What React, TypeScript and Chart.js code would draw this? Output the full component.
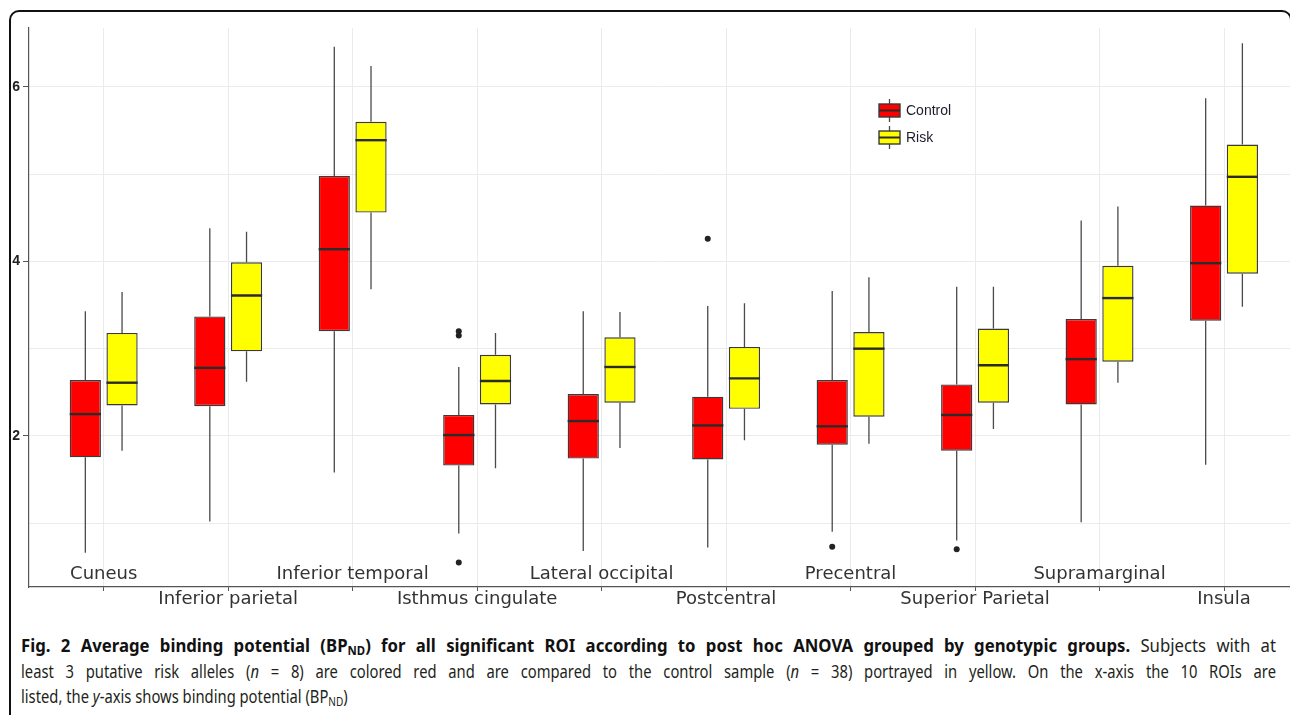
import React, { useEffect, useRef } from "react";
import { Chart, registerables } from "chart.js";

Chart.register(...registerables);

// ---------- data ----------
const regions = [
  "Cuneus",
  "Inferior parietal",
  "Inferior temporal",
  "Isthmus cingulate",
  "Lateral occipital",
  "Postcentral",
  "Precentral",
  "Superior Parietal",
  "Supramarginal",
  "Insula",
];
const groupNames = ["Control", "Risk"];
const groupColors = ["#ff0000", "#ffff00"];

const controlMin = [0.66, 1.02, 1.58, 0.88, 0.68, 0.72, 0.9, 0.8, 1.01, 1.67];
const controlQ1 = [1.755, 2.34, 3.2, 1.66, 1.74, 1.73, 1.9, 1.83, 2.36, 3.32];
const controlMedian = [2.25, 2.78, 4.14, 2.01, 2.17, 2.12, 2.11, 2.24, 2.88, 3.98];
const controlQ3 = [2.64, 3.37, 4.98, 2.24, 2.48, 2.45, 2.64, 2.59, 3.34, 4.64];
const controlMax = [3.43, 4.38, 6.46, 2.79, 3.43, 3.49, 3.66, 3.71, 4.47, 5.87];
const controlOutliers: number[][] = [[], [], [], [3.2, 3.15, 0.55], [], [4.26], [0.73], [0.7], [], []];

const riskMin = [1.83, 2.62, 3.68, 1.63, 1.86, 1.95, 1.91, 2.08, 2.61, 3.48];
const riskQ1 = [2.35, 2.97, 4.56, 2.36, 2.38, 2.31, 2.22, 2.38, 2.85, 3.86];
const riskMedian = [2.61, 3.61, 5.39, 2.63, 2.79, 2.66, 3.0, 2.81, 3.58, 4.97];
const riskQ3 = [3.18, 3.99, 5.6, 2.93, 3.13, 3.02, 3.19, 3.23, 3.95, 5.34];
const riskMax = [3.65, 4.34, 6.24, 3.18, 3.42, 3.52, 3.82, 3.71, 4.63, 6.5];
const riskOutliers: number[][] = [[], [], [], [], [], [], [], [], [], []];

const yGridTicks = [1, 2, 3, 4, 5, 6];
const yLabelTicks = [2, 4, 6];

// ---------- helpers ----------
const stats = [
  { min: controlMin, q1: controlQ1, med: controlMedian, q3: controlQ3, max: controlMax, out: controlOutliers },
  { min: riskMin, q1: riskQ1, med: riskMedian, q3: riskQ3, max: riskMax, out: riskOutliers },
];

const LINE = "#3a3a3a";
const WHISKER = "#4a4a4a";

const boxPartsPlugin = {
  id: "boxParts",
  beforeDatasetsDraw(chart: any) {
    const ctx = chart.ctx;
    const y = chart.scales.y;
    stats.forEach((s, di) => {
      const meta = chart.getDatasetMeta(di);
      meta.data.forEach((bar: any, i: number) => {
        const { x } = bar.getProps(["x"], true);
        ctx.save();
        ctx.strokeStyle = WHISKER;
        ctx.lineWidth = 1.3;
        ctx.beginPath();
        ctx.moveTo(x, y.getPixelForValue(s.q3[i]));
        ctx.lineTo(x, y.getPixelForValue(s.max[i]));
        ctx.moveTo(x, y.getPixelForValue(s.q1[i]));
        ctx.lineTo(x, y.getPixelForValue(s.min[i]));
        ctx.stroke();
        ctx.restore();
      });
    });
  },
  afterDatasetsDraw(chart: any) {
    const ctx = chart.ctx;
    const y = chart.scales.y;
    stats.forEach((s, di) => {
      const meta = chart.getDatasetMeta(di);
      meta.data.forEach((bar: any, i: number) => {
        const { x, width } = bar.getProps(["x", "width"], true);
        ctx.save();
        ctx.strokeStyle = "#2b2b2b";
        ctx.lineWidth = 2.4;
        ctx.beginPath();
        const my = y.getPixelForValue(s.med[i]);
        ctx.moveTo(x - width / 2, my);
        ctx.lineTo(x + width / 2, my);
        ctx.stroke();
        ctx.fillStyle = "#222";
        s.out[i].forEach((v) => {
          ctx.beginPath();
          ctx.arc(x, y.getPixelForValue(v), 3, 0, Math.PI * 2);
          ctx.fill();
        });
        ctx.restore();
      });
    });
  },
};

const legendPlugin = {
  id: "boxLegend",
  afterDraw(chart: any) {
    const ctx = chart.ctx;
    const area = chart.chartArea;
    const left = area.left + 850;
    const top = area.top + 76;
    const rowH = 27;
    const bw = 21;
    const bh = 13;
    groupNames.forEach((name, i) => {
      const ty = top + i * rowH;
      const cx = left + bw / 2;
      ctx.save();
      ctx.strokeStyle = WHISKER;
      ctx.lineWidth = 1.3;
      ctx.beginPath();
      ctx.moveTo(cx, ty - 5);
      ctx.lineTo(cx, ty + bh + 5);
      ctx.stroke();
      ctx.fillStyle = groupColors[i];
      ctx.fillRect(left, ty, bw, bh);
      ctx.strokeStyle = LINE;
      ctx.lineWidth = 1.4;
      ctx.strokeRect(left, ty, bw, bh);
      ctx.lineWidth = 2;
      ctx.strokeStyle = "#2b2b2b";
      ctx.beginPath();
      ctx.moveTo(left, ty + bh / 2);
      ctx.lineTo(left + bw, ty + bh / 2);
      ctx.stroke();
      ctx.fillStyle = "#1c1c2a";
      ctx.font = '14px "Liberation Sans", Arial, sans-serif';
      ctx.textBaseline = "middle";
      ctx.textAlign = "left";
      ctx.fillText(name, left + bw + 6, ty + bh / 2 + 0.5);
      ctx.restore();
    });
  },
};

function CaptionLine({ top, sx, justify, children }: { top: number; sx: number; justify: boolean; children: any }) {
  return (
    <div
      style={{
        position: "absolute",
        left: 21,
        top,
        width: 1255 / sx,
        height: 25.5,
        transform: `scaleX(${sx})`,
        transformOrigin: "0 0",
        fontFamily: '"Noto Sans", "Open Sans", sans-serif',
        fontSize: 18,
        lineHeight: "25.5px",
        color: "#231f20",
        whiteSpace: "nowrap",
        textAlign: justify ? "justify" : "left",
        textAlignLast: justify ? "justify" : "left",
      }}
    >
      {children}
    </div>
  );
}

export default function App() {
  const ref = useRef<HTMLCanvasElement>(null);

  useEffect(() => {
    if (!ref.current) return;
    const datasets = stats.map((s, di) => ({
      label: groupNames[di],
      data: regions.map((_, i) => ({ x: i + 1, y: [s.q1[i], s.q3[i]] })),
      backgroundColor: groupColors[di],
      borderColor: LINE,
      borderWidth: 1.4,
      borderSkipped: false,
      categoryPercentage: 0.59,
      barPercentage: 0.85,
    }));
    const chart = new Chart(ref.current, {
      type: "bar",
      data: { datasets } as any,
      plugins: [boxPartsPlugin, legendPlugin],
      options: {
        responsive: false,
        animation: false,
        layout: { padding: { left: 0, top: 28, right: 0, bottom: 0 } },
        plugins: { legend: { display: false }, tooltip: { enabled: false }, title: { display: false } },
        scales: {
          x: {
            type: "linear",
            min: 0.4,
            max: 10.53,
            bounds: "data",
            offset: false,
            afterBuildTicks: (s: any) => {
              s.ticks = regions.map((_, i) => ({ value: i + 1 }));
            },
            afterFit: (s: any) => {
              s.height = 33;
            },
            ticks: {
              autoSkip: false,
              maxRotation: 0,
              minRotation: 0,
              mirror: true,
              padding: 0.5,
              color: "#333",
              font: { family: '"DejaVu Sans", sans-serif', size: 18, lineHeight: 25 / 18 },
              callback: (v: any) => {
                const idx = Math.round(Number(v)) - 1;
                const name = regions[idx] ?? "";
                return idx % 2 === 0 ? [name] : ["", name];
              },
            },
            grid: { offset: false, color: "#ebebeb", lineWidth: 1, tickColor: "#555", tickLength: 4, drawTicks: true },
            border: { display: true, color: "#555", width: 1.2 },
          },
          y: {
            type: "linear",
            min: 0.268,
            max: 6.676,
            bounds: "data",
            afterBuildTicks: (s: any) => {
              s.ticks = yGridTicks.map((v) => ({ value: v }));
            },
            afterFit: (s: any) => {
              s.width = 29;
            },
            ticks: {
              padding: 3,
              color: "#222",
              font: { family: '"Liberation Sans", Arial, sans-serif', size: 14, weight: "bold" },
              callback: (v: any) => (yLabelTicks.includes(Number(v)) ? String(v) : ""),
            },
            grid: {
              color: "#ebebeb",
              lineWidth: 1,
              tickLength: 6,
              tickColor: (c: any) => (c.tick && yLabelTicks.includes(c.tick.value) ? "#555" : "rgba(0,0,0,0)"),
            },
            border: { display: true, color: "#555", width: 1.2 },
          },
        },
      } as any,
    });
    return () => chart.destroy();
  }, []);

  const sub = { fontSize: "0.68em", verticalAlign: "-0.28em", lineHeight: 0 } as React.CSSProperties;

  return (
    <div style={{ position: "absolute", left: 0, top: 0, width: 1290, height: 715, overflow: "hidden", background: "#fff" }}>
      <div
        style={{
          position: "absolute",
          left: 9,
          top: 10,
          width: 1283,
          height: 730,
          border: "2px solid #111",
          borderRadius: 10,
          boxSizing: "border-box",
        }}
      />
      <canvas ref={ref} width={1290} height={620} style={{ position: "absolute", left: 0, top: 0 }} />
      <CaptionLine top={633} sx={0.93} justify={true}>
        <b style={{ color: "#111" }}>
          Fig. 2 Average binding potential (BP<sub style={sub}>ND</sub>) for all significant ROI according to post hoc ANOVA
          grouped by genotypic groups.
        </b>{" "}
        Subjects with at
      </CaptionLine>
      <CaptionLine top={658.5} sx={0.82} justify={true}>
        least 3 putative risk alleles (<i>n</i> = 8) are colored red and are compared to the control sample (<i>n</i> = 38)
        portrayed in yellow. On the x-axis the 10 ROIs are
      </CaptionLine>
      <CaptionLine top={684} sx={0.82} justify={false}>
        listed, the <i>y</i>-axis shows binding potential (BP<sub style={sub}>ND</sub>)
      </CaptionLine>
    </div>
  );
}
